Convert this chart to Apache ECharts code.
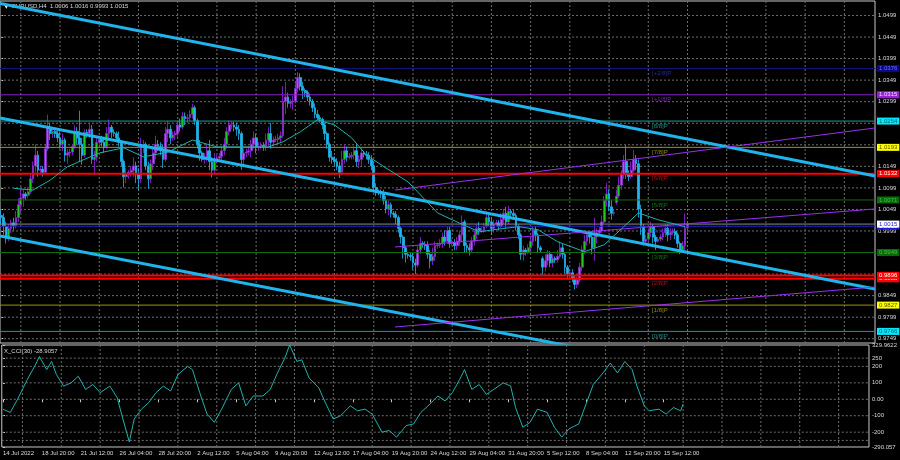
<!DOCTYPE html>
<html><head><meta charset="utf-8">
<script src="https://cdn.jsdelivr.net/npm/echarts@6/dist/echarts.min.js"></script>
<style>html,body{margin:0;padding:0;background:#000;}#c{width:900px;height:460px;}</style>
</head><body><div id="c"></div>
<script>
const FONT = '"Liberation Sans", Arial, sans-serif';
const TXT = '#d8d8d8';
const FS = 6;
const N_BARS = 357;              // bar slots on the time axis (incl. right shift)
const tickEvery = 16;
const tickLabels = ['14 Jul 2022','18 Jul 20:00','21 Jul 12:00','26 Jul 04:00','28 Jul 20:00','2 Aug 12:00','5 Aug 04:00','9 Aug 20:00','12 Aug 12:00','17 Aug 04:00','19 Aug 20:00','24 Aug 12:00','29 Aug 04:00','31 Aug 20:00','5 Sep 12:00','8 Sep 04:00','12 Sep 20:00','15 Sep 12:00'];
const priceTicks = [1.0499,1.0449,1.0399,1.0349,1.0299,1.0249,1.0199,1.0149,1.0099,1.0049,0.9999,0.9949,0.9899,0.9849,0.9799,0.9749];
const priceTickLabels = [1.0499,1.0449,1.0399,1.0349,1.0299,1.0149,1.0099,1.0049,0.9999,0.9849,0.9799,0.9749];
const vGridBars = [8,24,40,56,72,88,104,120,136,152,168,184,200,216,232,248,264,280,296,312,328,344];
const cciTicks = [329.9622,250,200,100,0,-100,-200,-290.057];
const cciTickText = ['329.9622','250','200','100','0.00','-100','-200','-290.057'];
const cciGrid = [250,200,100,0,-100,-200,-250];
const PRICE_MIN = 0.97391, PRICE_MAX = 1.05326;
const CCI_MIN = -290.057, CCI_MAX = 329.9622;

// OHLC (x10000): [open, close, low, high], EURUSD H4 from 14 Jul 2022 04:00
const ohlc = [
[10035,10030,10015,10050],[10030,10010,9990,10040],[10010,9985,9970,10020],[9985,10005,9975,10015],[10005,10018,9995,10025],
[10018,10012,10000,10030],[10012,10030,10005,10045],[10030,10060,10020,10075],[10060,10075,10040,10095],[10075,10085,10055,10096],[10085,10080,10070,10090],
[10082,10090,10075,10100],[10090,10120,10085,10130],[10120,10150,10110,10160],[10150,10175,10135,10200],[10175,10140,10125,10185],[10140,10142,10130,10150],
[10142,10135,10125,10150],[10135,10190,10130,10200],[10190,10240,10185,10269],[10240,10225,10210,10250],[10225,10230,10215,10240],[10230,10225,10215,10235],
[10225,10215,10205,10235],[10215,10200,10190,10230],[10200,10210,10185,10225],[10210,10175,10160,10215],[10175,10180,10155,10190],[10180,10182,10170,10190],
[10182,10195,10175,10200],[10195,10230,10190,10245],[10230,10215,10200,10240],[10215,10200,10160,10278],[10200,10175,10153,10215],[10175,10228,10170,10235],
[10228,10225,10215,10235],[10225,10235,10215,10250],[10235,10165,10155,10245],[10165,10170,10130,10185],[10170,10205,10160,10215],[10205,10212,10195,10220],
[10212,10205,10195,10220],[10205,10195,10180,10215],[10195,10225,10190,10240],[10225,10240,10215,10258],[10240,10228,10215,10245],[10228,10225,10218,10235],
[10225,10215,10205,10230],[10215,10205,10195,10230],[10205,10160,10150,10210],[10160,10125,10100,10165],[10125,10130,10110,10145],[10130,10135,10120,10140],
[10135,10140,10125,10150],[10140,10150,10125,10170],[10150,10130,10110,10160],[10130,10120,10095,10145],[10120,10195,10110,10215],[10195,10200,10180,10210],
[10200,10150,10140,10205],[10150,10120,10097,10160],[10120,10155,10110,10165],[10155,10180,10140,10195],[10180,10200,10165,10220],[10200,10195,10185,10210],
[10195,10185,10175,10205],[10185,10165,10145,10200],[10165,10225,10160,10240],[10225,10235,10205,10254],[10235,10215,10200,10245],[10215,10222,10208,10230],
[10222,10225,10210,10232],[10225,10245,10215,10255],[10245,10240,10230,10260],[10240,10265,10235,10275],[10265,10260,10245,10274],[10260,10262,10250,10270],
[10262,10270,10255,10280],[10270,10285,10260,10294],[10285,10255,10245,10290],[10255,10200,10190,10260],[10200,10180,10162,10210],[10180,10165,10160,10185],
[10165,10170,10155,10180],[10170,10185,10160,10200],[10185,10160,10140,10210],[10160,10140,10123,10170],[10140,10165,10130,10180],[10165,10168,10155,10175],
[10168,10172,10160,10180],[10172,10185,10160,10195],[10185,10200,10175,10215],[10200,10230,10190,10240],[10230,10245,10220,10255],[10245,10245,10235,10253],
[10245,10240,10230,10252],[10240,10235,10220,10250],[10235,10225,10210,10245],[10225,10165,10141,10230],[10165,10180,10150,10190],[10180,10182,10170,10190],
[10182,10185,10175,10195],[10185,10200,10170,10210],[10200,10215,10190,10230],[10215,10195,10180,10225],[10195,10195,10185,10205],[10195,10198,10190,10205],
[10198,10195,10185,10205],[10195,10210,10185,10225],[10210,10225,10195,10240],[10225,10205,10190,10250],[10205,10210,10195,10218],[10210,10212,10205,10220],
[10212,10215,10200,10225],[10215,10220,10205,10230],[10220,10300,10215,10335],[10300,10310,10270,10345],[10310,10295,10285,10320],[10295,10298,10285,10305],
[10298,10300,10280,10312],[10300,10330,10295,10345],[10330,10355,10320,10368],[10355,10335,10325,10365],[10335,10325,10305,10345],[10325,10320,10310,10330],
[10320,10310,10300,10325],[10310,10300,10290,10318],[10300,10285,10275,10305],[10285,10270,10260,10295],[10270,10262,10255,10280],[10262,10258,10250,10268],
[10258,10245,10235,10262],[10245,10225,10210,10250],[10225,10200,10190,10230],[10200,10170,10160,10205],[10170,10165,10155,10185],[10165,10160,10150,10172],
[10160,10150,10140,10168],[10150,10135,10122,10160],[10135,10165,10130,10185],[10165,10185,10155,10200],[10185,10170,10160,10195],[10170,10172,10165,10180],
[10172,10175,10165,10182],[10175,10185,10165,10195],[10185,10160,10150,10200],[10160,10165,10145,10175],[10165,10180,10150,10190],[10180,10177,10170,10185],
[10177,10175,10165,10185],[10175,10165,10155,10182],[10165,10150,10140,10175],[10150,10100,10090,10160],[10100,10090,10080,10110],[10090,10088,10082,10095],
[10088,10085,10075,10095],[10085,10070,10060,10095],[10070,10050,10040,10080],[10050,10060,10035,10070],[10060,10040,10030,10065],[10040,10038,10030,10045],
[10038,10030,10015,10045],[10030,10005,9995,10035],[10005,9985,9970,10010],[9985,9960,9935,9990],[9960,9945,9926,9965],[9945,9942,9935,9950],
[9942,9940,9930,9950],[9940,9925,9910,9950],[9925,9920,9899,9935],[9920,9955,9915,9965],[9955,9970,9945,9985],[9970,9968,9960,9975],
[9968,9965,9955,9975],[9965,9945,9935,9975],[9945,9930,9912,9955],[9930,9940,9920,9960],[9940,9965,9930,9975],[9965,9967,9958,9972],
[9967,9970,9960,9980],[9970,9985,9960,9995],[9985,9975,9965,10000],[9975,10000,9970,10010],[10000,9970,9960,10010],[9970,9972,9965,9980],
[9972,9965,9955,9980],[9965,9975,9955,9985],[9975,9990,9965,10000],[9990,10020,9975,10035],[10020,9965,9948,10025],[9965,9960,9950,9972],
[9960,9955,9942,9970],[9955,9975,9950,9985],[9975,9990,9965,10000],[9990,10005,9980,10015],[10005,10000,9990,10020],[10000,10000,9995,10008],
[10000,10010,9995,10018],[10010,10030,10005,10045],[10030,10020,10010,10040],[10020,10005,9990,10030],[10005,10015,9995,10025],[10015,10018,10010,10025],
[10018,10010,10000,10025],[10010,10025,10005,10040],[10025,10040,10015,10050],[10040,10020,10005,10055],[10020,10045,10015,10058],[10045,10040,10030,10050],
[10040,10035,10025,10048],[10035,10010,10000,10040],[10010,9990,9980,10015],[9990,9945,9932,9995],[9945,9955,9930,9965],[9955,9950,9942,9960],
[9950,9960,9945,9968],[9960,9975,9950,9985],[9975,10000,9965,10010],[10000,9990,9975,10010],[9990,9960,9950,9995],[9960,9955,9948,9965],
[9935,9915,9897,9940],[9915,9930,9905,9945],[9930,9945,9920,9955],[9945,9925,9915,9952],[9925,9935,9915,9945],[9935,9932,9925,9940],
[9932,9940,9925,9955],[9940,9960,9935,9975],[9960,9945,9935,9970],[9945,9915,9900,9950],[9915,9900,9890,9920],[9900,9902,9893,9910],
[9902,9890,9880,9910],[9890,9875,9863,9895],[9875,9885,9866,9893],[9885,9915,9880,9925],[9915,9955,9905,9965],[9955,9975,9945,9990],
[9975,9990,9965,10000],[9990,9985,9970,9998],[9985,9960,9945,9995],[9960,9985,9930,10030],[9985,9995,9970,10005],[9995,10000,9990,10008],
[10000,10020,9995,10035],[10020,10070,10015,10080],[10070,10085,10055,10110],[10085,10055,10045,10095],[10055,10040,10025,10070],[10040,10042,10035,10048],
[10065,10080,10060,10095],[10080,10105,10075,10125],[10105,10130,10095,10140],[10130,10160,10120,10175],[10160,10130,10120,10198],[10130,10125,10115,10140],
[10125,10140,10120,10160],[10140,10165,10135,10187],[10165,10155,10140,10175],[10155,10050,10030,10165],[10050,10010,9990,10060],[10010,9975,9966,10015],
[9975,9980,9968,9990],[9980,9995,9975,10005],[9995,10010,9985,10020],[10010,9985,9970,10015],[9985,9975,9955,9990],[9975,9980,9972,9985],
[9980,9985,9975,9992],[9985,9995,9978,10005],[9995,10005,9985,10015],[10005,9990,9975,10015],[9990,9995,9978,10005],[9995,9998,9990,10005],
[9998,9990,9980,10005],[9990,9970,9960,9995],[9970,9955,9945,9975],[9955,9965,9950,9975],[9965,10006,9955,10040],[10006,10015,9993,10016]
];

// Moving average: [bar index, price]
const maPoints = [[5,1.0098],[13,1.0094],[20,1.0117],[27,1.0148],[40,1.0180],[50,1.0192],[58,1.0171],[68,1.0182],[78,1.0210],[88,1.0194],[102,1.0194],[109,1.0194],[115,1.0206],[122,1.0229],[129,1.0257],[136,1.0245],[143,1.0215],[149,1.0175],[157,1.0145],[166,1.0113],[178,1.0041],[184,1.0025],[195,0.9997],[201,1.0002],[211,1.0009],[219,1.0002],[227,0.9974],[238,0.9951],[246,0.9967],[254,1.0009],[260,1.0041],[268,1.0025],[279,1.0009]];

// CCI(30): [bar index, value]
const cciPoints = [[0,-60],[3,-80],[6,0],[10,120],[13,200],[15,260],[18,180],[20,230],[22,150],[25,80],[28,100],[31,140],[34,60],[37,90],[40,40],[44,80],[47,10],[49,-100],[52,-260],[54,-120],[57,-60],[60,-20],[63,40],[66,80],[69,50],[72,150],[76,200],[78,180],[81,40],[84,-90],[87,-140],[90,-60],[94,60],[97,100],[100,-40],[103,20],[107,20],[110,60],[113,160],[116,250],[118,330],[121,230],[123,240],[126,130],[130,70],[133,-30],[136,-120],[139,-100],[143,-40],[146,-70],[149,-60],[152,-90],[156,-200],[159,-190],[162,-230],[166,-160],[169,-150],[172,-80],[175,-40],[179,20],[182,-10],[185,40],[188,120],[190,180],[193,60],[196,90],[199,30],[202,60],[206,100],[209,80],[211,-50],[214,-170],[217,-140],[220,-60],[224,-80],[227,-170],[230,-230],[233,-180],[237,-150],[240,-30],[243,90],[247,160],[250,220],[253,160],[256,230],[259,180],[261,80],[264,-40],[266,-70],[270,-60],[273,-90],[276,-50],[279,-70],[280,-29]];

// Murrey Math levels
const murreyNames  = ['[+2/8]P','[+1/8]P','[8/8]P','[7/8]P','[6/8]P','[5/8]P','[4/8]P','[3/8]P','[2/8]P','[1/8]P','[0/8]P'];
const murreyValues = [1.0376,1.0315,1.0254,1.0193,1.0132,1.0071,1.0010,0.9949,0.9888,0.9827,0.9766];
const murreyColors = ['#14147e','#8a22cc','#1a9c9c','#9a9a00','#ff0000','#0c700c','#2222c8','#0c700c','#ff0000','#9a9a00','#1a9c9c'];
const murreyTextColors = ['#3434c0','#9a28d8','#1fb0a0','#b0b000','#e01010','#178a17','#3030e0','#178a17','#e01010','#b0b000','#1fb0b0'];
const murreyWidths = [1,1,1,1,2,1,1,1,2,1,1];
const murreyBoxBg  = ['#0a0a88','#9a1fd8','#00e8ff','#ffff00','#ff0000','#0a6a0a','#1a1ae0','#0a6a0a','#ff0000','#ffff00','#00e8ff'];
const murreyBoxFg  = ['#6a6aff','#f0d8ff','#006070','#505000','#ffffff','#40c040','#ffffff','#40c040','#ffffff','#505000','#006070'];
const murreyLabelBar = 265.5;
const extraLevel = 0.9896;       // additional red support line
const bidPrice = 1.0015;

// Trend lines: [barStart, priceStart, barEnd, priceEnd]
const cyanLines = [[-0.5,1.05268,356.5,1.01266],[-0.5,1.02612,356.5,0.98644],[-0.5,0.99874,356.5,0.95953]];
const purpleLines = [[160.7,1.0094,356.5,1.0238],[160.7,0.99619,356.5,1.00501],[160.7,0.97763,356.5,0.98691]];

// --- categories (H4 bars, weekdays only)
const MON = ['Jan','Feb','Mar','Apr','May','Jun','Jul','Aug','Sep','Oct','Nov','Dec'];
const cats = [];
let t = Date.UTC(2022,6,14,4);
while (cats.length < N_BARS) {
  const d = new Date(t);
  const wd = d.getUTCDay();
  if (wd !== 0 && wd !== 6) cats.push(d.getUTCDate()+' '+MON[d.getUTCMonth()]+' '+String(d.getUTCHours()).padStart(2,'0')+':00');
  t += 4*3600e3;
}

// dotted grid as broken line series
function hLines(vals, x0, x1) { const out=[]; vals.forEach(v=>{out.push([x0,v],[x1,v],['-','-']);}); return out; }
function vLines(bars, lo, hi) { const out=[]; bars.forEach(b=>{out.push([b,lo],[b,hi],['-','-']);}); return out; }
const gridLine = {color:'#6e6e6e', type:[2,2], width:1};
const X0 = -0.5, X1 = N_BARS - 0.5;

const chart = echarts.init(document.getElementById('c'), null, {renderer:'canvas', width:900, height:460});
const isTick = (i) => i % tickEvery === 0 && (i / tickEvery) < tickLabels.length;

// horizontal level as a line series with a boxed end label on the price scale
function levelSeries(v, color, width, bg, fg, z) {
  return {type:'line', xAxisIndex:1, yAxisIndex:0, data:[[X0,v],[X1,v]], symbol:'none', silent:true, z:z||4,
    lineStyle:{color:color, width:width, type:'solid'}, itemStyle:{color:color},
    endLabel:{show:true, distance:2, formatter: v.toFixed(4), backgroundColor:bg, color:fg, padding:[1,2,0,2], fontSize:FS, fontFamily:FONT}};
}
const levelSeriesList = murreyValues.map((v,k) => levelSeries(v, murreyColors[k], murreyWidths[k], murreyBoxBg[k], murreyBoxFg[k]));
levelSeriesList.push(levelSeries(extraLevel, '#ff0000', 2, '#ff0000', '#ffffff'));
levelSeriesList.push(levelSeries(bidPrice, '#8a8a8a', 1, '#ffffff', '#2020d0', 5));

const trendSeries = [];
cyanLines.forEach(l => trendSeries.push({type:'line', xAxisIndex:1, yAxisIndex:0, data:[[l[0],l[1]],[l[2],l[3]]], symbol:'none', silent:true, z:6,
  lineStyle:{color:'#1fb4ec', width:3}}));
purpleLines.forEach(l => trendSeries.push({type:'line', xAxisIndex:1, yAxisIndex:0, data:[[l[0],l[1]],[l[2],l[3]]], symbol:'none', silent:true, z:6,
  lineStyle:{color:'#9b30f0', width:1}}));

const option = {
  animation: false,
  backgroundColor: '#000000',
  textStyle: {fontFamily: FONT},
  grid: [
    {left:0, top:1, width:875, height:342, show:true, borderColor:'#c8c8c8', borderWidth:1, backgroundColor:'transparent'},
    {left:0, top:345, width:875, height:102, show:true, borderColor:'#c8c8c8', borderWidth:1, backgroundColor:'transparent'}
  ],
  xAxis: [
    {type:'category', gridIndex:0, data:cats, boundaryGap:true, axisLine:{show:false}, axisTick:{show:false}, axisLabel:{show:false}, splitLine:{show:false}},
    {type:'value', gridIndex:0, min:X0, max:X1, show:false},
    {type:'category', gridIndex:1, data:cats, boundaryGap:true, axisLine:{show:false},
      axisTick:{show:true, interval:(i)=>isTick(i), alignWithLabel:true, length:3, lineStyle:{color:'#c8c8c8'}},
      axisLabel:{show:true, interval:(i)=>isTick(i), formatter:(v,i)=>tickLabels[i/tickEvery], align:'left', color:TXT, fontSize:FS, margin:3, fontFamily:FONT},
      splitLine:{show:false}},
    {type:'value', gridIndex:1, min:X0, max:X1, show:false}
  ],
  yAxis: [
    {type:'value', gridIndex:0, position:'right', min:PRICE_MIN, max:PRICE_MAX,
      axisLine:{show:false}, splitLine:{show:false},
      axisTick:{show:true, customValues:priceTickLabels, length:2, lineStyle:{color:'#c8c8c8'}},
      axisLabel:{show:true, customValues:priceTickLabels, formatter:(v)=>v.toFixed(4), color:TXT, fontSize:FS, margin:3, fontFamily:FONT}},
    {type:'value', gridIndex:1, position:'right', min:CCI_MIN, max:CCI_MAX,
      axisLine:{show:false}, splitLine:{show:false},
      axisTick:{show:true, customValues:cciTicks, length:2, lineStyle:{color:'#c8c8c8'}},
      axisLabel:{show:true, customValues:cciTicks, formatter:(v)=>{const k=cciTicks.findIndex(c=>Math.abs(c-v)<1e-6); return k>=0?cciTickText[k]:String(v);}, color:TXT, fontSize:FS, margin:3, fontFamily:FONT}}
  ],
  series: [
    {type:'line', xAxisIndex:1, yAxisIndex:0, symbol:'none', silent:true, z:1, connectNulls:false, lineStyle:gridLine,
      data:[...hLines(priceTicks, X0, X1), ...vLines(vGridBars, PRICE_MIN, PRICE_MAX)]},
    {type:'line', xAxisIndex:3, yAxisIndex:1, symbol:'none', silent:true, z:1, connectNulls:false, lineStyle:gridLine,
      data:[...hLines(cciGrid, X0, X1), ...vLines(vGridBars, CCI_MIN, CCI_MAX)]},
    {type:'candlestick', xAxisIndex:0, yAxisIndex:0, z:3, barWidth:2.3,
      data: ohlc.map(r => r.map(v => v/10000)),
      itemStyle:{color:'#22c822', color0:'#1fb4ec', borderColor:'#9b1fe8', borderColor0:'#1fb4ec', borderWidth:0.8}},
    ...levelSeriesList,
    {type:'scatter', xAxisIndex:1, yAxisIndex:0, symbolSize:0, silent:true, z:5,
      data: murreyValues.map((v,k)=>({value:[murreyLabelBar, v], label:{color: murreyTextColors[k]}})),
      label:{show:true, position:'right', distance:0, offset:[0,5], fontSize:FS, fontFamily:FONT, formatter:(p)=>murreyNames[p.dataIndex]}},
    ...trendSeries,
    {type:'line', xAxisIndex:1, yAxisIndex:0, data:maPoints, symbol:'none', silent:true, z:7, lineStyle:{color:'#20b2aa', width:1}},
    {type:'line', xAxisIndex:3, yAxisIndex:1, data:cciPoints, symbol:'none', silent:true, z:3, lineStyle:{color:'#20b2aa', width:1}}
  ],
  graphic: [
    {type:'text', left:4, top:3, style:{text:'▼', fill:'#ffffff', font:'6px "DejaVu Sans"'}},
    {type:'text', left:12, top:3, style:{text:'EURUSD,H4  1.0006 1.0016 0.9993 1.0015', fill:TXT, font:FS+'px '+FONT}},
    {type:'text', left:4, top:348, style:{text:'X_CCI(30) -28.9057', fill:TXT, font:FS+'px '+FONT}}
  ]
};
chart.setOption(option);
</script></body></html>
